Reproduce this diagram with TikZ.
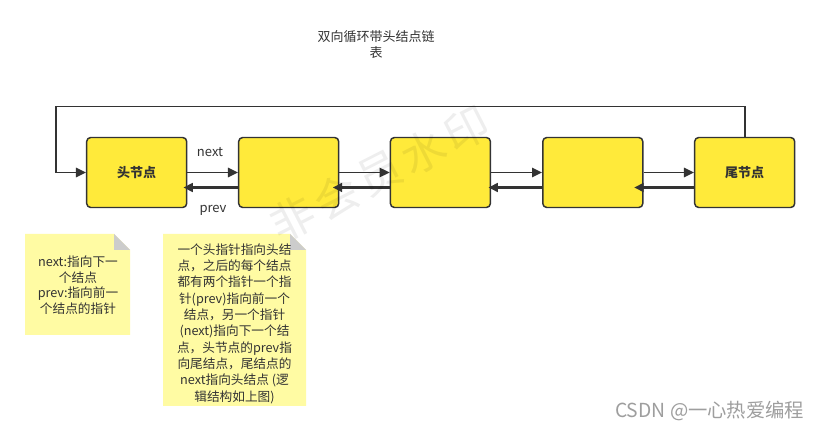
\documentclass[tikz,border=0pt]{standalone}
\usepackage{fontspec}
\setmainfont{Noto Sans CJK SC}
\usetikzlibrary{arrows.meta}
\definecolor{boxyellow}{HTML}{FFEA3A}
\definecolor{boxline}{HTML}{333333}
\definecolor{notefill}{HTML}{FFFBA3}
\definecolor{notefold}{HTML}{CCCCCC}
\definecolor{txt}{HTML}{333333}
\begin{document}
\begin{tikzpicture}[x=0.75pt,y=-0.75pt,
  listbox/.style={draw=boxline,line width=1.1pt,fill=boxyellow,rounded corners=3pt,
    minimum width=75pt,minimum height=52.5pt,font=\fontsize{9.75}{11}\selectfont\bfseries,text=txt},
  nextarrow/.style={draw=boxline,line width=1.2pt,-{Triangle[length=7.5pt,width=7pt]}},
  prevarrow/.style={draw=boxline,line width=2pt,-{Triangle[length=7pt,width=6.5pt]}},
  lbl/.style={font=\fontsize{9.75}{11}\selectfont,text=txt},
  notetext/.style={align=center,text=txt,inner sep=0pt},
  notebody/.style={fill=notefill},
  notecorner/.style={fill=notefold},
  wmark/.style={text=black,opacity=0.065,rotate=27,inner sep=0pt,font=\fontsize{33}{33}\selectfont}
]
\useasboundingbox (0,0) rectangle (819,431);
\fill[white] (0,0) rectangle (819,431);

% title
\node[lbl,align=center,font=\fontsize{9.75}{12}\selectfont] (title) at (376,45) {双向循环带头结点链\\表};

% boxes
\node[listbox] (b1) at (136.7,172.5) {头节点};
\node[listbox] (b2) at (288.7,172.5) {};
\node[listbox] (b3) at (440.4,172.5) {};
\node[listbox] (b4) at (592.8,172.5) {};
\node[listbox] (b5) at (744.7,172.5) {尾节点};

% next arrows
\draw[nextarrow] (b1.east) -- (b2.west);
\draw[nextarrow] (b2.east) -- (b3.west);
\draw[nextarrow] (b3.east) -- (b4.west);
\draw[nextarrow] (b4.east) -- (b5.west);

% prev arrows
\draw[prevarrow] ([yshift=-11.25pt]b2.west) -- ([xshift=-3pt,yshift=-11.25pt]b1.east);
\draw[prevarrow] ([yshift=-11.25pt]b3.west) -- ([xshift=-5pt,yshift=-11.25pt]b2.east);
\draw[prevarrow] ([yshift=-11.25pt]b4.west) -- ([xshift=-2pt,yshift=-11.25pt]b3.east);
\draw[prevarrow] ([yshift=-11.25pt]b5.west) -- ([xshift=-7pt,yshift=-11.25pt]b4.east);

% loop
\coordinate (lt) at (56,106.7);
\draw[nextarrow] (b5.north) |- (lt) |- (b1.west);

% labels
\node[lbl] (lnext) at (210,152) {next};
\node[lbl] (lprev) at (213,210) {prev};

% note 1
\fill[notebody] (25,234) -- (114,234) -- (130,250) -- (130,335) -- (25,335) -- cycle;
\fill[notecorner] (114,234) -- (130,250) -- (114,250) -- cycle;
\node[notetext,font=\fontsize{9.5}{11.7}\selectfont] (n1) at (78,285) {next:指向下一\\个结点\\prev:指向前一\\个结点的指针};

% note 2
\fill[notebody] (163,234) -- (290,234) -- (306,250) -- (306,406) -- (163,406) -- cycle;
\fill[notecorner] (290,234) -- (306,250) -- (290,250) -- cycle;
\node[notetext,font=\fontsize{9.5}{12.25}\selectfont] (n2) at (234.5,323.5) {一个头指针指向头结\\点，之后的每个结点\\都有两个指针一个指\\针(prev)指向前一个\\结点，另一个指针\\(next)指向下一个结\\点，头节点的prev指\\向尾结点，尾结点的\\next指向头结点 (逻\\辑结构如上图)};

% watermark, one character at a time along a slanted line
\node[wmark] (wm1) at (293,219) {非};
\node[wmark] (wm2) at (336.5,196.5) {会};
\node[wmark] (wm3) at (380,174) {员};
\node[wmark] (wm4) at (423.5,151.5) {水};
\node[wmark] (wm5) at (467,129) {印};

\node[text=black!38,font=\fontsize{14.5}{16}\selectfont,anchor=east] (csdn) at (809,411) {CSDN @一心热爱编程};
\end{tikzpicture}
\end{document}
